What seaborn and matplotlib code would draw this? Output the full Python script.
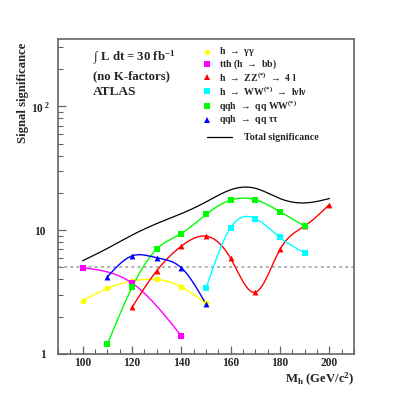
import numpy as np
import matplotlib
matplotlib.use("Agg")
import matplotlib.pyplot as plt
import matplotlib.ticker as mticker
import matplotlib.transforms as mtransforms
from matplotlib.lines import Line2D
import seaborn as sns

# ---------------- data ----------------
mass_gg = [100, 110, 120, 130, 140, 150]
sig_gg = [2.69, 3.39, 3.88, 4.00, 3.49, 2.56]

mass_tth = [100, 120, 140]
sig_tth = [4.97, 3.74, 1.40]

mass_zz = [120, 130, 140, 150, 160, 170, 180, 190, 200]
sig_zz = [2.38, 4.70, 7.43, 8.95, 5.91, 3.15, 6.99, 10.8, 16.1]

mass_ww = [150, 160, 170, 180, 190]
sig_ww = [3.39, 10.5, 12.4, 8.73, 6.56]

mass_qqww = [110, 120, 130, 140, 150, 160, 170, 180, 190]
sig_qqww = [1.20, 3.45, 7.03, 9.40, 13.4, 17.5, 17.6, 14.1, 10.8]

mass_qqtt = [110, 120, 130, 140, 150]
sig_qqtt = [4.20, 6.20, 5.98, 4.97, 2.53]

mass_total = [100, 110, 120, 130, 140, 150, 160, 170, 180, 190, 200]
sig_total = [5.66, 7.12, 9.12, 11.3, 13.6, 16.9, 21.2, 21.8, 18.0, 16.6, 18.0]

discovery_level = 5

labels = [
    "h  $\u2192$  \u03b3\u03b3",
    "tth (h  $\u2192$  bb)",
    "h  $\u2192$  ZZ$^{(*)}$  $\u2192$  4 l",
    "h  $\u2192$  WW$^{(*)}$  $\u2192$  l\u03bdl\u03bd",
    "qqh  $\u2192$  qq WW$^{(*)}$",
    "qqh  $\u2192$  qq \u03c4\u03c4",
]
total_label = "Total significance"
xticks = [100, 120, 140, 160, 180, 200]
yticks = [1, 10, 100]
ytick_labels = ["1", "10", "10$^{\\ 2}$"]

# ---------------- style ----------------
sns.set_theme(style="white")
plt.rcParams["font.family"] = ["Liberation Serif", "DejaVu Serif"]
plt.rcParams["font.weight"] = "bold"
plt.rcParams["mathtext.fontset"] = "custom"
plt.rcParams["mathtext.rm"] = "Liberation Serif:bold"
plt.rcParams["mathtext.it"] = "Liberation Serif:bold"
plt.rcParams["mathtext.bf"] = "Liberation Serif:bold"

W = 394
fig = plt.figure(figsize=(3.94, 3.94), dpi=100)
ax = fig.add_axes([58 / W, 1 - 354 / W, (354 - 58) / W, (354 - 39) / W])


def spline(x, y, xs):
    x = np.asarray(x, float)
    y = np.asarray(y, float)
    n = len(x)
    h = np.diff(x)
    A = np.zeros((n, n))
    r = np.zeros(n)
    A[0, 0] = 1
    A[-1, -1] = 1
    for i in range(1, n - 1):
        A[i, i - 1] = h[i - 1]
        A[i, i] = 2 * (h[i - 1] + h[i])
        A[i, i + 1] = h[i]
        r[i] = 3 * ((y[i + 1] - y[i]) / h[i] - (y[i] - y[i - 1]) / h[i - 1])
    c = np.linalg.solve(A, r)
    b = (y[1:] - y[:-1]) / h - h * (2 * c[:-1] + c[1:]) / 3
    d = (c[1:] - c[:-1]) / (3 * h)
    idx = np.clip(np.searchsorted(x, xs) - 1, 0, n - 2)
    dx = xs - x[idx]
    return y[idx] + b[idx] * dx + c[idx] * dx ** 2 + d[idx] * dx ** 3


def smooth(xv, yv):
    xs = np.linspace(xv[0], xv[-1], 300)
    ys = 10 ** spline(xv, np.log10(yv), xs)
    return xs, ys


series = [
    (mass_gg, sig_gg, "#ffff00", "o"),
    (mass_tth, sig_tth, "#ff00ff", "s"),
    (mass_zz, sig_zz, "#ff0000", "^"),
    (mass_ww, sig_ww, "#00ffff", "s"),
    (mass_qqww, sig_qqww, "#00ff00", "s"),
    (mass_qqtt, sig_qqtt, "#0000ff", "^"),
]

ax.axhline(discovery_level, color="#a0a0a0", lw=1.1, ls=(0, (2, 2)), zorder=1)

xs, ys = smooth(mass_total, sig_total)
sns.lineplot(x=xs, y=ys, color="black", lw=0.9, ax=ax, sort=False, estimator=None)

for xv, yv, col, mk in series:
    xs, ys = smooth(xv, yv)
    sns.lineplot(x=xs, y=ys, color=col, lw=1.0, ax=ax, sort=False, estimator=None)
    sns.scatterplot(x=xv, y=yv, color=col, marker=mk, s=18, linewidth=0, ax=ax, zorder=3)

ax.set_yscale("log")
ax.set_xlim(90, 210)
ax.set_ylim(1, 350)
ax.set_xticks(xticks)
ax.xaxis.set_minor_locator(mticker.MultipleLocator(5))
ax.set_yticks(yticks)
ax.set_yticklabels(ytick_labels)
ax.yaxis.set_minor_locator(mticker.LogLocator(base=10, subs=np.arange(2, 10)))
ax.yaxis.set_minor_formatter(mticker.NullFormatter())
ax.tick_params(axis="both", which="both", direction="in", color="#666666",
               labelsize=8.3, bottom=True, left=True, top=False, right=False)
ax.tick_params(axis="x", which="major", length=6, width=0.9, pad=2.5)
ax.tick_params(axis="x", which="minor", length=3.5, width=0.8)
ax.tick_params(axis="y", which="major", length=6, width=0.9, pad=9)
ax.tick_params(axis="y", which="minor", length=3.5, width=0.8)
for lab in ax.get_xticklabels() + ax.get_yticklabels():
    lab.set_fontweight("bold")
# exponent label: base digits aligned with the others, superscript sticks out
shift = mtransforms.ScaledTranslation(5 / 100, 0, fig.dpi_scale_trans)
ax.get_yticklabels()[2].set_transform(ax.get_yticklabels()[2].get_transform() + shift)
for sp in ax.spines.values():
    sp.set_color("#666666")
    sp.set_linewidth(1.2)


def px(x, y):
    return x / W, 1 - y / W


fs_legend = 7.0
rows = [51.6, 64.0, 77.0, 91.2, 106.2, 119.6]
for (xv, yv, col, mk), lab, yy in zip(series, labels, rows):
    fig.add_artist(Line2D([px(207, yy)[0]], [px(207, yy)[1]], marker=mk, color=col,
                          markersize=3.8, markeredgewidth=0, linestyle="none"))
    fig.text(*px(219, yy), lab, fontsize=fs_legend, fontweight="bold", va="center", ha="left")
fig.add_artist(Line2D([207 / W, 232 / W], [1 - 137.3 / W, 1 - 137.3 / W], color="black", lw=0.9))
fig.text(*px(244, 137.3), total_label, fontsize=7.2, fontweight="bold", va="center", ha="left")

fig.text(*px(93, 58), "\u222b L dt = 30 fb$^{-1}$", fontsize=9.2, fontweight="bold", va="center", ha="left")
fig.text(*px(93, 76.5), "(no K-factors)", fontsize=9.2, fontweight="bold", va="center", ha="left")
fig.text(*px(93, 92), "ATLAS", fontsize=9.6, fontweight="bold", va="center", ha="left")

fig.text(*px(23, 43), "Signal significance", rotation=90, fontsize=9.2, fontweight="bold",
         va="top", ha="center")
fig.text(*px(354, 379), "M$_{h}$ (GeV/c$^{2}$)", fontsize=9.2, fontweight="bold",
         va="center", ha="right")

fig.savefig("out.png", dpi=100)
